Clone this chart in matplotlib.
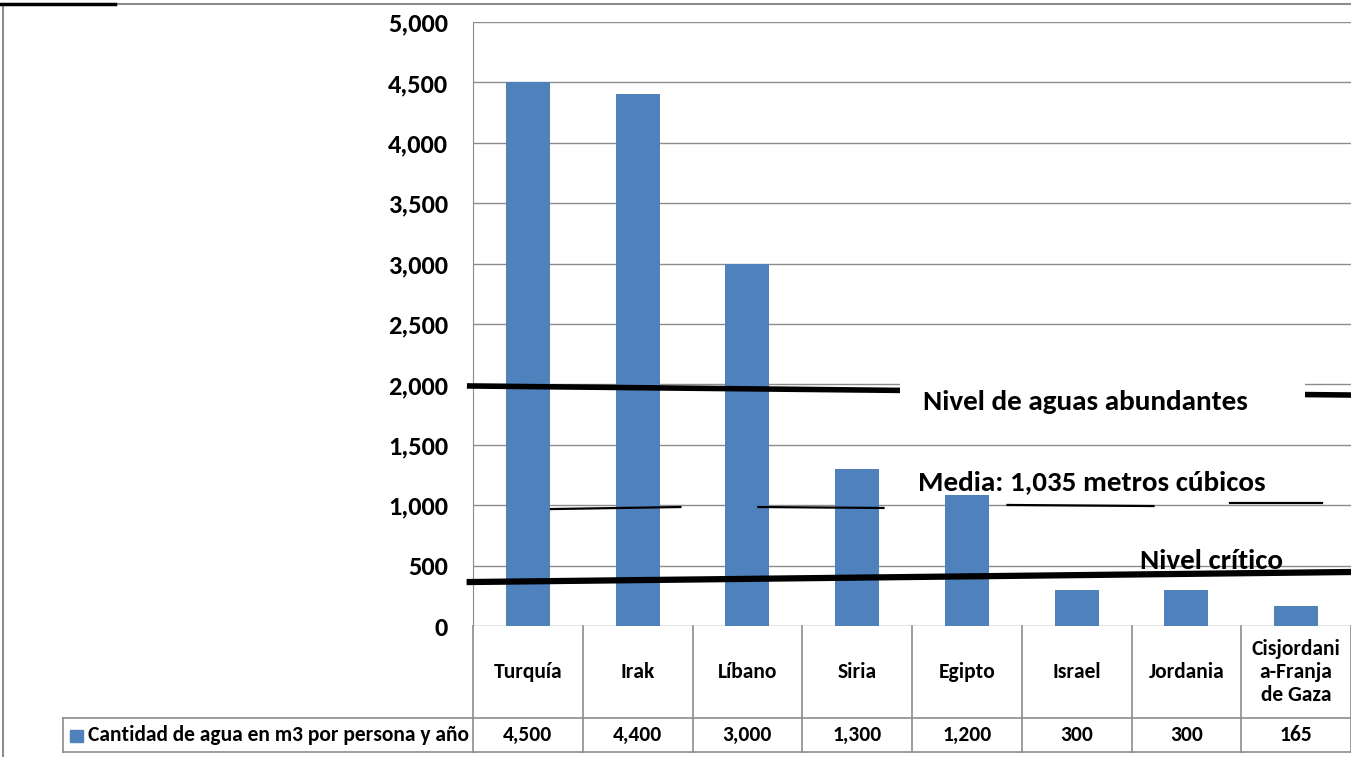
import matplotlib
matplotlib.use("Agg")
import matplotlib.pyplot as plt
from matplotlib.lines import Line2D
from matplotlib.patches import Rectangle

plt.rcParams['font.family'] = ['Carlito', 'Lato', 'DejaVu Sans']
plt.rcParams['font.weight'] = 'bold'

countries = ['Turquía', 'Irak', 'Líbano', 'Siria', 'Egipto', 'Israel',
             'Jordania', 'Cisjordani\na-Franja\nde Gaza']
water = [4500, 4400, 3000, 1300, 1200, 300, 300, 165]
value_labels = ['4,500', '4,400', '3,000', '1,300', '1,200', '300', '300', '165']
series_name = 'Cantidad de agua en m3 por persona y año'
yticks = [0, 500, 1000, 1500, 2000, 2500, 3000, 3500, 4000, 4500, 5000]

# hand drawn reference lines (category units, m3)
abund_x = [-0.53, 7.5]
abund_y = [1987, 1912]
critico_x = [-0.53, 7.5]
critico_y = [364, 447]
media_segs = [([0.21, 1.39], [968, 985]),
              ([2.10, 3.24], [985, 977]),
              ([4.37, 5.70], [1002, 993]),
              ([6.40, 7.24], [1018, 1018])]

blue = '#4F81BD'
grid = '#8C8C8C'
W, H = 1351, 757
fw = 'heavy'

fig = plt.figure(figsize=(W / 100, H / 100), dpi=100)

x0, x1 = 473, 1351
ax = fig.add_axes([x0 / W, (H - 626) / H, (x1 - x0) / W, (626 - 22) / H])
ax.bar(range(len(water)), water, width=0.4, color=blue, zorder=2)
ax.set_xlim(-0.5, len(water) - 0.5)
ax.set_ylim(0, 5000)
ax.set_yticks(yticks)
ax.set_yticklabels([f'{v:,}' for v in yticks], fontsize=19, fontweight=fw)
ax.tick_params(axis='y', length=0, pad=18)
ax.set_xticks([])
ax.grid(axis='y', color=grid, lw=1, zorder=0)
for s in ['top', 'right', 'bottom']:
    ax.spines[s].set_visible(False)
ax.spines['left'].set_color(grid)

ax.plot(abund_x, abund_y, color='black', lw=4, zorder=3, clip_on=False)
ax.plot(critico_x, critico_y, color='black', lw=4.5, zorder=3, clip_on=False)
for sx, sy in media_segs:
    ax.plot(sx, sy, color='black', lw=1.6, zorder=3)

# white label box hiding the middle of the upper line
ax.add_patch(Rectangle((3.39, 1680), 3.69, 380, fc='white', ec='none', zorder=3.5))
ax.text(5.08, 1854, 'Nivel de aguas abundantes', fontsize=21, fontweight=fw,
        ha='center', va='center', zorder=4)
ax.text(5.14, 1192, 'Media: 1,035 metros cúbicos', fontsize=21, fontweight=fw,
        ha='center', va='center', zorder=4,
        bbox=dict(boxstyle='square,pad=0.02', fc='white', ec='none'))
ax.text(6.23, 540, 'Nivel crítico', fontsize=21, fontweight=fw,
        ha='center', va='center', zorder=4)

# data table under the chart
unit = (x1 - x0) / len(water)
left_px = 63
tab = fig.add_axes([left_px / W, (H - 752) / H, (x1 - left_px) / W, 126 / H])
tab.set_xlim(-0.5 - (x0 - left_px) / unit, len(water) - 0.5)
tab.set_ylim(126, 0)
tab.axis('off')
n = len(water)
lx = tab.get_xlim()[0]
for i in range(n + 1):
    tab.plot([i - 0.5, i - 0.5], [0, 126], color=grid, lw=1.2, clip_on=False)
tab.plot([lx, n - 0.5], [92, 92], color=grid, lw=1.2, clip_on=False)
tab.plot([lx, n - 0.5], [126, 126], color=grid, lw=1.2, clip_on=False)
tab.plot([lx, lx], [92, 126], color=grid, lw=1.2, clip_on=False)
for i, (c, v) in enumerate(zip(countries, value_labels)):
    tab.text(i, 46, c, ha='center', va='center', fontsize=15.5, fontweight=fw,
             linespacing=1.2)
    tab.text(i, 109, v, ha='center', va='center', fontsize=15.5, fontweight=fw)
tab.add_patch(Rectangle((lx + 7 / unit, 104), 13 / unit, 12, color=blue,
                        clip_on=False))
tab.text(lx + 25 / unit, 109, series_name, ha='left', va='center', fontsize=15.5,
         fontweight=fw)

# frame and stray line at the top left
fig.add_artist(Line2D([3 / W, 3 / W], [0, 1 - 4 / H], color=grid, lw=1.5))
fig.add_artist(Line2D([3 / W, 1], [1 - 4 / H, 1 - 4 / H], color=grid, lw=1.5))
fig.add_artist(Line2D([0, 115 / W], [1 - 4 / H, 1 - 4 / H], color='black', lw=2.5))

fig.savefig('out.png', dpi=100)
